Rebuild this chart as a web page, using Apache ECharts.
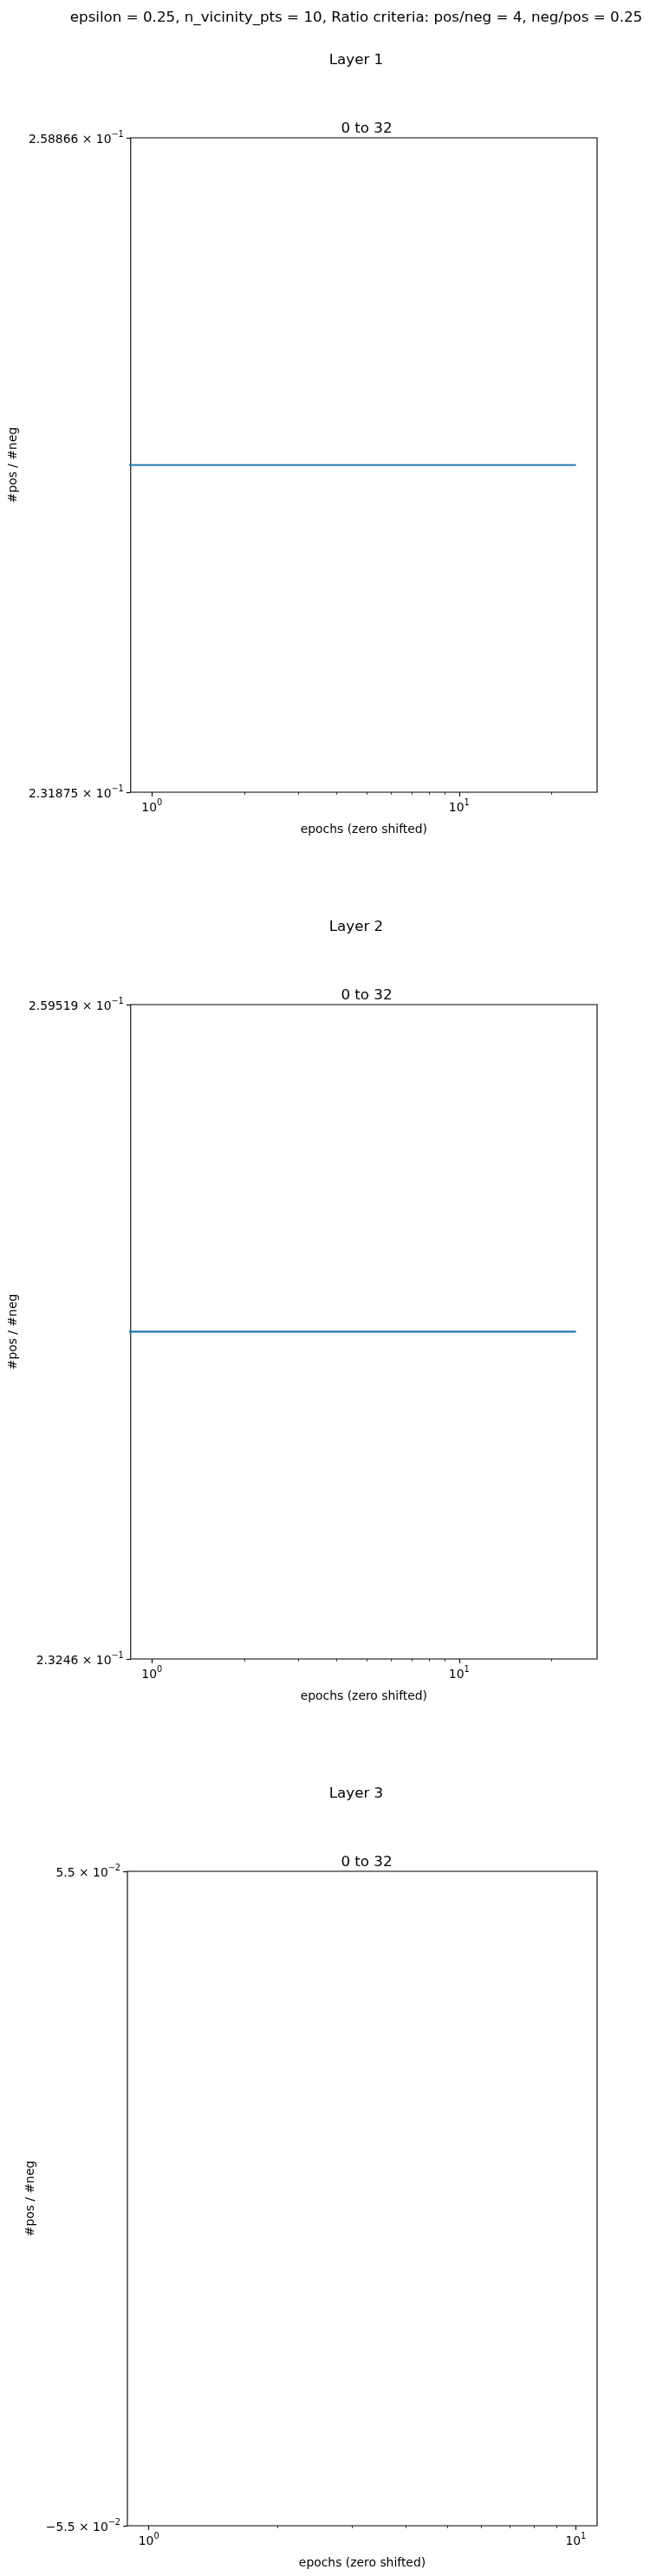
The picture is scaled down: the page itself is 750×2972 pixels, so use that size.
<!DOCTYPE html>
<html><head><meta charset="utf-8">
<script src="https://cdn.jsdelivr.net/npm/echarts@6/dist/echarts.min.js"></script>
<style>html,body{margin:0;padding:0;background:#fff}#c{width:750px;height:2972px}</style>
</head><body><div id="c"></div>
<script>
// ---------- data ----------
const suptitle = 'epsilon = 0.25, n_vicinity_pts = 10, Ratio criteria: pos/neg = 4, neg/pos = 0.25';
const layerTitles = ['Layer 1', 'Layer 2', 'Layer 3'];
const panelTitles = ['0 to 32', '0 to 32', '0 to 32'];
const xAxisName = 'epochs (zero shifted)';
const yAxisName = '#pos / #neg';
const epochs = [0, 1, 2, 3, 4, 5, 6, 7, 8, 9, 10, 11, 12, 13, 14, 15, 16, 17, 18, 19, 20, 21, 22, 23, 24];
const layer1Values = [0.245, 0.245, 0.245, 0.245, 0.245, 0.245, 0.245, 0.245, 0.245, 0.245, 0.245, 0.245, 0.245,
                      0.245, 0.245, 0.245, 0.245, 0.245, 0.245, 0.245, 0.245, 0.245, 0.245, 0.245, 0.245];
const layer2Values = [0.24562, 0.24562, 0.24562, 0.24562, 0.24562, 0.24562, 0.24562, 0.24562, 0.24562, 0.24562, 0.24562, 0.24562, 0.24562,
                      0.24562, 0.24562, 0.24562, 0.24562, 0.24562, 0.24562, 0.24562, 0.24562, 0.24562, 0.24562, 0.24562, 0.24562];
const layer3Values = []; // nothing visible in layer 3
const yTickLabels = [[0.231875, 0.258866], [0.23246, 0.259519], [-0.055, 0.055]];
const xMajorTicks = [1, 10];
const xMinorTicks = [[2, 3, 4, 5, 6, 7, 8, 9, 20], [2, 3, 4, 5, 6, 7, 8, 9, 20], [2, 3, 4, 5, 6, 7, 8, 9]];
const xRanges = [[0.8531, 28.13], [0.8531, 28.13], [0.8913, 11.22]];
const yScaleTypes = ['log', 'log', 'value'];

// ---------- layout / style ----------
const FONT = 'DejaVu Sans';
const GRID_LEFT = 147, GRID_W = 542, GRID_H = 755, FIRST_TOP = 159, STEP = 1000, CX = 406;
const LINE_COLOR = '#1f77b4';
// like matplotlib's log-scale 'clip': non-positive x is pushed to a tiny value (far off the left edge)
const LOG_CLIP = 1e-300;

function sci(v) {
  if (v === 0) return '0';
  const neg = v < 0;
  const a = Math.abs(v);
  let e = Math.floor(Math.log10(a));
  let ms = parseFloat((a / Math.pow(10, e)).toPrecision(6)).toString();
  if (parseFloat(ms) >= 10) { e += 1; ms = parseFloat((a / Math.pow(10, e)).toPrecision(6)).toString(); }
  const es = (e < 0 ? '\u2212' : '') + Math.abs(e);
  return '{m|' + (neg ? '\u2212' : '') + ms + ' \u00d7 10}{s|' + es + '}';
}
const richLabel = {
  m: { fontFamily: FONT, fontSize: 13.9, color: '#000', lineHeight: 18, verticalAlign: 'bottom' },
  s: { fontFamily: FONT, fontSize: 9.7, color: '#000', lineHeight: 18, verticalAlign: 'top' }
};

const seriesData = [layer1Values, layer2Values, layer3Values];
const option = {
  animation: false,
  backgroundColor: '#fff',
  title: [],
  grid: [], xAxis: [], yAxis: [], series: []
};
option.title.push({ text: suptitle, left: CX, top: 7, textAlign: 'center',
  textStyle: { fontFamily: FONT, fontSize: 16.7, fontWeight: 'normal', color: '#000' } });

for (let i = 0; i < 3; i++) {
  const top = FIRST_TOP + i * STEP;
  option.title.push({ text: layerTitles[i], left: CX, top: top - 103, textAlign: 'center',
    textStyle: { fontFamily: FONT, fontSize: 16.7, fontWeight: 'normal', color: '#000' } });
  option.title.push({ text: panelTitles[i], left: GRID_LEFT + GRID_W / 2, top: top - 24, textAlign: 'center',
    textStyle: { fontFamily: FONT, fontSize: 16.7, fontWeight: 'normal', color: '#000' } });
  option.grid.push({ left: GRID_LEFT, top: top, width: GRID_W, height: GRID_H, show: true,
    borderColor: '#000', borderWidth: 1.1, containLabel: false });
  // major x axis
  option.xAxis.push({
    type: 'log', logBase: 10, gridIndex: i, position: 'bottom', min: xRanges[i][0], max: xRanges[i][1],
    name: xAxisName, nameLocation: 'middle', nameGap: 36,
    nameTextStyle: { fontFamily: FONT, fontSize: 13.9, color: '#000' },
    axisLine: { show: false, onZero: false },
    axisTick: { show: true, length: 4.9, lineStyle: { color: '#000', width: 1.1 }, customValues: xMajorTicks },
    axisLabel: { show: true, margin: 7, customValues: xMajorTicks, rich: richLabel,
      formatter: v => '{m|10}{s|' + Math.round(Math.log10(v)) + '}' },
    splitLine: { show: false }, minorTick: { show: false }
  });
  // minor x ticks
  option.xAxis.push({
    type: 'log', logBase: 10, gridIndex: i, position: 'bottom', min: xRanges[i][0], max: xRanges[i][1],
    axisLine: { show: false, onZero: false },
    axisTick: { show: true, length: 2.8, lineStyle: { color: '#000', width: 0.8 }, customValues: xMinorTicks[i] },
    axisLabel: { show: false }, splitLine: { show: false }
  });
  const yt = yTickLabels[i];
  option.yAxis.push({
    type: yScaleTypes[i], gridIndex: i, position: 'left', min: yt[0], max: yt[1],
    name: yAxisName, nameLocation: 'middle', nameGap: i < 2 ? 125 : 100, nameRotate: 90,
    nameTextStyle: { fontFamily: FONT, fontSize: 13.9, color: '#000' },
    axisLine: { show: false, onZero: false },
    axisTick: { show: true, length: 4.9, lineStyle: { color: '#000', width: 1.1 }, customValues: yt },
    axisLabel: { show: true, margin: 8, customValues: yt, rich: richLabel, formatter: v => sci(v) },
    splitLine: { show: false }, minorTick: { show: false }
  });
  option.series.push({
    type: 'line', xAxisIndex: 2 * i, yAxisIndex: i, showSymbol: false, symbol: 'none', clip: true,
    lineStyle: { color: LINE_COLOR, width: 2.1 },
    data: seriesData[i].map((y, k) => [epochs[k] > 0 ? epochs[k] : LOG_CLIP, y])
  });
}
const chart = echarts.init(document.getElementById('c'), null, { renderer: 'canvas' });
chart.setOption(option);
</script></body></html>
